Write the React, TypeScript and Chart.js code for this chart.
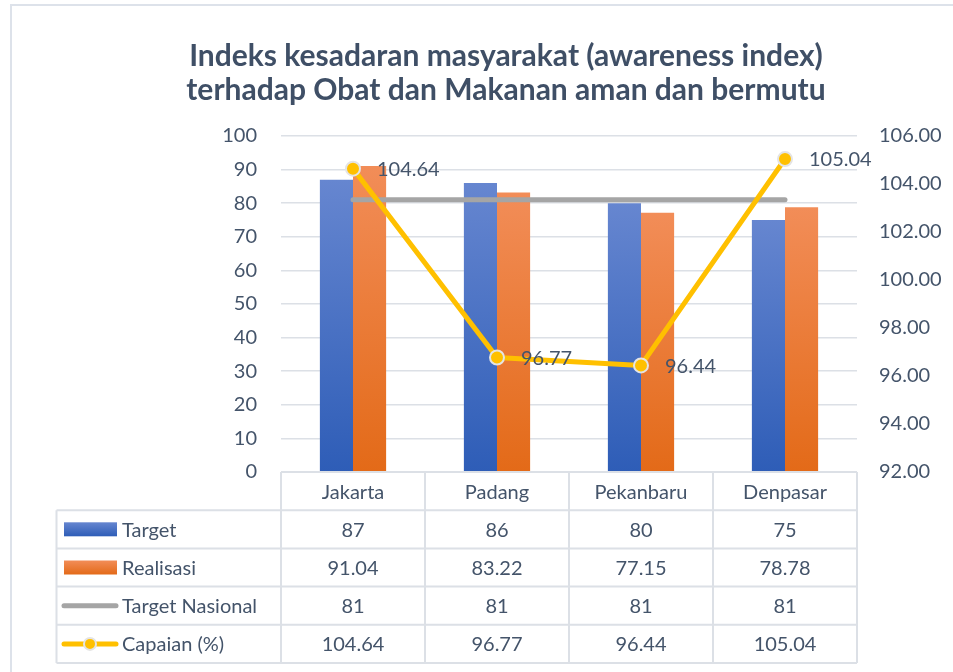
import { useEffect, useRef } from "react";
import { Chart, registerables } from "chart.js";

Chart.register(...registerables);

const categories = ["Jakarta", "Padang", "Pekanbaru", "Denpasar"];
const targetValues = [87, 86, 80, 75];
const realisasiValues = [91.04, 83.22, 77.15, 78.78];
const targetNasionalValues = [81, 81, 81, 81];
const capaianValues = [104.64, 96.77, 96.44, 105.04];
const seriesNames = ["Target", "Realisasi", "Target Nasional", "Capaian (%)"];
const titleLines = [
  "Indeks kesadaran masyarakat (awareness index)",
  "terhadap Obat dan Makanan aman dan bermutu",
];

const FONT = "Lato, 'Open Sans', sans-serif";
const TEXT_COLOR = "#44546A";
const GRID_COLOR = "#DCE0E6";
const BLUE_TOP = "#6686D0";
const BLUE_BOTTOM = "#2E5DB7";
const ORANGE_TOP = "#F28D58";
const ORANGE_BOTTOM = "#E36A18";
const GRAY = "#A5A5A5";
const YELLOW = "#FFC000";
const MARKER_BORDER = "#E4E4E4";

function barGradient(top: string, bottom: string) {
  return (ctx: any) => {
    const chart = ctx.chart;
    const area = chart.chartArea;
    if (!area || ctx.type !== "data") return bottom;
    const yTop = chart.scales.y.getPixelForValue(ctx.raw);
    const g = chart.ctx.createLinearGradient(0, yTop, 0, area.bottom);
    g.addColorStop(0, top);
    g.addColorStop(1, bottom);
    return g;
  };
}

const framePlugin = {
  id: "frameAndTitle",
  beforeDraw(chart: any) {
    const c = chart.ctx;
    c.save();
    c.strokeStyle = "#DDE2EA";
    c.lineWidth = 2;
    c.beginPath();
    c.moveTo(11, chart.height);
    c.lineTo(11, 5);
    c.lineTo(chart.width, 5);
    c.stroke();
    c.fillStyle = "#3F4F66";
    c.font = `bold 30px ${FONT}`;
    c.textAlign = "center";
    c.textBaseline = "alphabetic";
    const cx = 506;
    c.fillText(titleLines[0], cx, 66);
    c.fillText(titleLines[1], cx, 100);
    c.restore();
  },
};

const labelPlugin = {
  id: "capaianLabels",
  afterDatasetsDraw(chart: any) {
    const meta = chart.getDatasetMeta(3);
    const c = chart.ctx;
    c.save();
    c.fillStyle = TEXT_COLOR;
    c.font = `20px ${FONT}`;
    c.textAlign = "left";
    c.textBaseline = "middle";
    meta.data.forEach((pt: any, i: number) => {
      c.fillText(capaianValues[i].toFixed(2), pt.x + 24, pt.y + 1);
    });
    c.restore();
  },
};

const tablePlugin = {
  id: "dataTable",
  afterDraw(chart: any) {
    const c = chart.ctx;
    const area = chart.chartArea;
    const xs = chart.scales.x;
    const n = categories.length;
    const bounds: number[] = [area.left];
    for (let i = 0; i < n - 1; i++) {
      bounds.push((xs.getPixelForValue(i) + xs.getPixelForValue(i + 1)) / 2);
    }
    bounds.push(area.right);
    const top = area.bottom;
    const rowH = 38.2;
    const tableLeft = 56.5;
    const rows = [targetValues, realisasiValues, targetNasionalValues, capaianValues];

    c.save();
    c.strokeStyle = GRID_COLOR;
    c.lineWidth = 2;
    c.beginPath();
    c.moveTo(area.left, top);
    c.lineTo(area.right, top);
    for (let r = 1; r <= rows.length; r++) {
      const y = top + rowH * r;
      c.moveTo(tableLeft, y);
      c.lineTo(area.right, y);
    }
    const bottom = top + rowH * (rows.length + 1);
    c.moveTo(tableLeft, bottom);
    c.lineTo(area.right, bottom);
    bounds.forEach((b) => {
      c.moveTo(b, top);
      c.lineTo(b, bottom);
    });
    c.moveTo(tableLeft, top + rowH);
    c.lineTo(tableLeft, bottom);
    c.stroke();

    c.fillStyle = TEXT_COLOR;
    c.font = `20px ${FONT}`;
    c.textAlign = "center";
    c.textBaseline = "middle";
    categories.forEach((cat, i) => {
      c.fillText(cat, (bounds[i] + bounds[i + 1]) / 2, top + rowH / 2 + 1);
    });
    rows.forEach((vals, r) => {
      const cy = top + rowH * (r + 1) + rowH / 2 + 1;
      vals.forEach((v, i) => {
        c.fillText(String(v), (bounds[i] + bounds[i + 1]) / 2, cy);
      });
    });

    rows.forEach((_, r) => {
      const cy = top + rowH * (r + 1) + rowH / 2;
      if (r === 0 || r === 1) {
        const g = c.createLinearGradient(0, cy - 7, 0, cy + 7);
        g.addColorStop(0, r === 0 ? BLUE_TOP : ORANGE_TOP);
        g.addColorStop(1, r === 0 ? BLUE_BOTTOM : ORANGE_BOTTOM);
        c.fillStyle = g;
        c.fillRect(64, cy - 7, 53, 14);
      } else {
        c.strokeStyle = r === 2 ? GRAY : YELLOW;
        c.lineWidth = 5;
        c.lineCap = "round";
        c.beginPath();
        c.moveTo(64, cy);
        c.lineTo(116, cy);
        c.stroke();
        if (r === 3) {
          c.beginPath();
          c.arc(90, cy, 6, 0, Math.PI * 2);
          c.fillStyle = YELLOW;
          c.fill();
          c.lineWidth = 2;
          c.strokeStyle = MARKER_BORDER;
          c.stroke();
        }
      }
      c.fillStyle = TEXT_COLOR;
      c.textAlign = "left";
      c.fillText(seriesNames[r], 122, cy + 1);
    });
    c.restore();
  },
};

export default function App() {
  const ref = useRef<HTMLCanvasElement | null>(null);

  useEffect(() => {
    document.body.style.margin = "0";
    const canvas = ref.current;
    if (!canvas) return;
    const chart = new Chart(canvas, {
      type: "bar",
      data: {
        labels: categories,
        datasets: [
          {
            type: "bar",
            label: seriesNames[0],
            data: targetValues,
            backgroundColor: barGradient(BLUE_TOP, BLUE_BOTTOM),
            yAxisID: "y",
            order: 3,
            barPercentage: 1,
            categoryPercentage: 0.46,
          },
          {
            type: "bar",
            label: seriesNames[1],
            data: realisasiValues,
            backgroundColor: barGradient(ORANGE_TOP, ORANGE_BOTTOM),
            yAxisID: "y",
            order: 3,
            barPercentage: 1,
            categoryPercentage: 0.46,
          },
          {
            type: "line",
            label: seriesNames[2],
            data: targetNasionalValues,
            borderColor: GRAY,
            borderWidth: 5,
            borderCapStyle: "round",
            pointRadius: 0,
            yAxisID: "y",
            order: 2,
          },
          {
            type: "line",
            label: seriesNames[3],
            data: capaianValues,
            borderColor: YELLOW,
            borderWidth: 5,
            borderCapStyle: "round",
            borderJoinStyle: "round",
            pointRadius: 7,
            pointBackgroundColor: YELLOW,
            pointBorderColor: MARKER_BORDER,
            pointBorderWidth: 2,
            yAxisID: "y1",
            order: 1,
          },
        ] as any,
      },
      options: {
        responsive: false,
        animation: false,
        devicePixelRatio: 1,
        layout: { padding: { top: 136, bottom: 200, left: 0, right: 0 } },
        plugins: {
          legend: { display: false },
          title: { display: false },
          tooltip: { enabled: false },
        },
        scales: {
          x: {
            type: "category",
            display: false,
            offset: true,
          },
          y: {
            position: "left",
            min: 0,
            max: 100,
            ticks: {
              stepSize: 10,
              padding: 24,
              color: TEXT_COLOR,
              font: { family: FONT, size: 20 },
            },
            grid: { color: GRID_COLOR, lineWidth: 1.5, drawTicks: false },
            border: { display: false },
            afterFit: (s: any) => {
              s.width = 281;
            },
          },
          y1: {
            position: "right",
            min: 92,
            max: 106,
            ticks: {
              stepSize: 2,
              padding: 22,
              color: TEXT_COLOR,
              font: { family: FONT, size: 20 },
              callback: (v: any) => Number(v).toFixed(2),
            },
            grid: { display: false, drawTicks: false },
            border: { display: false },
            afterFit: (s: any) => {
              s.width = 96;
            },
          },
        },
      } as any,
      plugins: [framePlugin, labelPlugin, tablePlugin],
    });
    return () => chart.destroy();
  }, []);

  return (
    <div style={{ position: "absolute", left: 0, top: 0, width: 953, height: 672, background: "#fff" }}>
      <canvas ref={ref} width={953} height={672} style={{ display: "block" }} />
    </div>
  );
}
